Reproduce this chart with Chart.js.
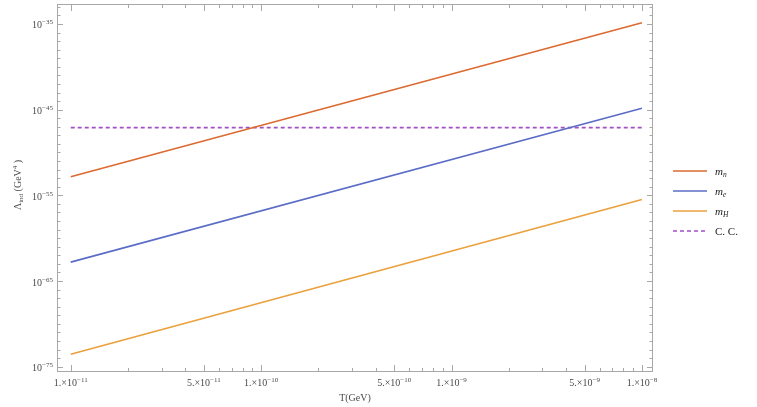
<!DOCTYPE html>
<html>
<head>
<meta charset="utf-8">
<script src="https://cdn.jsdelivr.net/npm/chart.js@4.4.1/dist/chart.umd.min.js"></script>
<style>
  html, body { margin: 0; padding: 0; background: #fff; }
  #wrap { position: relative; width: 757px; height: 407px; }
</style>
</head>
<body>
<div id="wrap"><canvas id="lambdaChart" width="757" height="407"></canvas></div>
<script>
// Data (log-log straight lines)
const temps = [1e-11, 1e-8];
const lambdaMn = [1.5e-53, 1.4e-35];
const lambdaMe = [1.6e-63, 1.45e-45];
const lambdaMh = [2.9e-74, 3.2e-56];
const lambdaCC = [7.9e-48, 7.9e-48];

// Tick labels
const xMajorTicks = [1e-11, 5e-11, 1e-10, 5e-10, 1e-9, 5e-9, 1e-8];
const xMantissa = ['1.', '5.', '1.', '5.', '1.', '5.', '1.'];
const xExponent = ['−11', '−11', '−10', '−10', '−9', '−9', '−8'];
const xMinorTicks = [2e-11, 3e-11, 4e-11, 6e-11, 7e-11, 8e-11, 9e-11,
                     2e-10, 3e-10, 4e-10, 6e-10, 7e-10, 8e-10, 9e-10,
                     2e-9, 3e-9, 4e-9, 6e-9, 7e-9, 8e-9, 9e-9];
const yMajorExp = [-35, -45, -55, -65, -75];
const yMinorExpFrom = -75, yMinorExpTo = -33;

const seriesNames = ['n', 'e', 'H', 'C. C.'];
const seriesColors = ['#dc6a30', '#5b6cc6', '#eba03c', '#a24fc2'];

const serif = '"Liberation Serif", "DejaVu Serif", serif';
const frameColor = '#a8a8a8';
const textColor = '#4a4a4a';

// Draws base text followed by a raised / lowered smaller part
function drawScript(ctx, parts, x, y, align) {
    let total = 0;
    parts.forEach(p => { ctx.font = p.font; p.w = ctx.measureText(p.text).width; total += p.w; });
    let cx = align === 'right' ? x - total : align === 'center' ? x - total / 2 : x;
    ctx.textAlign = 'left';
    ctx.textBaseline = 'alphabetic';
    parts.forEach(p => {
        ctx.font = p.font;
        ctx.fillText(p.text, cx, y + (p.dy || 0));
        cx += p.w;
    });
}

const framePlugin = {
    id: 'mmaFrame',
    afterDraw(chart) {
        const ctx = chart.ctx;
        const area = chart.chartArea;
        const xs = chart.scales.x, ys = chart.scales.y;
        ctx.save();

        // frame
        ctx.strokeStyle = frameColor;
        ctx.lineWidth = 1;
        ctx.strokeRect(area.left + 0.5, area.top + 0.5, area.right - area.left - 1, area.bottom - area.top - 1);

        // x ticks (bottom and top)
        ctx.beginPath();
        xMajorTicks.forEach(v => {
            const px = Math.round(xs.getPixelForValue(v)) + 0.5;
            ctx.moveTo(px, area.bottom); ctx.lineTo(px, area.bottom - 7);
            ctx.moveTo(px, area.top); ctx.lineTo(px, area.top + 7);
        });
        xMinorTicks.forEach(v => {
            const px = Math.round(xs.getPixelForValue(v)) + 0.5;
            ctx.moveTo(px, area.bottom); ctx.lineTo(px, area.bottom - 4);
            ctx.moveTo(px, area.top); ctx.lineTo(px, area.top + 4);
        });
        // y ticks (left and right)
        for (let e = yMinorExpFrom; e <= yMinorExpTo; e++) {
            const py = Math.round(ys.getPixelForValue(Math.pow(10, e))) + 0.5;
            const len = yMajorExp.includes(e) ? 6 : 3.5;
            ctx.moveTo(area.left, py); ctx.lineTo(area.left + len, py);
            ctx.moveTo(area.right, py); ctx.lineTo(area.right - len, py);
        }
        ctx.stroke();

        // tick labels
        ctx.fillStyle = textColor;
        const big = '10px ' + serif, small = '7px ' + serif;
        xMajorTicks.forEach((v, i) => {
            const px = xs.getPixelForValue(v);
            drawScript(ctx, [
                { text: xMantissa[i] + '×10', font: big },
                { text: xExponent[i], font: small, dy: -4 }
            ], px, area.bottom + 14, 'center');
        });
        yMajorExp.forEach(e => {
            const py = ys.getPixelForValue(Math.pow(10, e));
            drawScript(ctx, [
                { text: '10', font: big },
                { text: '−' + Math.abs(e), font: small, dy: -4 }
            ], area.left - 4, py + 4.5, 'right');
        });

        // axis titles
        drawScript(ctx, [{ text: 'T(GeV)', font: big }], (area.left + area.right) / 2, 401, 'center');
        ctx.save();
        ctx.translate(21, 185);
        ctx.rotate(-Math.PI / 2);
        drawScript(ctx, [
            { text: 'Λ', font: big },
            { text: 'ind', font: small, dy: 2 },
            { text: ' (GeV', font: big },
            { text: '4', font: small, dy: -4 },
            { text: ' )', font: big }
        ], 0, 0, 'center');
        ctx.restore();

        // legend
        const legendX = 673, legendY = [171, 191, 211, 231];
        seriesNames.forEach((name, i) => {
            ctx.strokeStyle = seriesColors[i];
            ctx.lineWidth = 1.6;
            ctx.setLineDash(i === 3 ? [4, 3] : []);
            ctx.beginPath();
            ctx.moveTo(legendX, legendY[i]);
            ctx.lineTo(legendX + 34, legendY[i]);
            ctx.stroke();
            ctx.setLineDash([]);
            ctx.fillStyle = '#222';
            if (i < 3) {
                drawScript(ctx, [
                    { text: 'm', font: 'italic 11px ' + serif },
                    { text: name, font: 'italic 7.5px ' + serif, dy: 2.5 }
                ], legendX + 42, legendY[i] + 3.5, 'left');
            } else {
                drawScript(ctx, [{ text: name, font: '11px ' + serif }], legendX + 42, legendY[i] + 3.5, 'left');
            }
        });
        ctx.restore();
    }
};

function makeSeries(values, i) {
    return {
        label: seriesNames[i],
        data: temps.map((t, k) => ({ x: t, y: values[k] })),
        borderColor: seriesColors[i],
        borderWidth: i === 3 ? 1.8 : 1.6,
        borderDash: i === 3 ? [4, 3] : [],
        pointRadius: 0,
        tension: 0
    };
}

const ctx = document.getElementById('lambdaChart').getContext('2d');
new Chart(ctx, {
    type: 'line',
    data: {
        datasets: [
            makeSeries(lambdaMn, 0),
            makeSeries(lambdaMe, 1),
            makeSeries(lambdaMh, 2),
            makeSeries(lambdaCC, 3)
        ]
    },
    options: {
        responsive: false,
        animation: false,
        layout: { padding: { left: 57, right: 104, top: 4, bottom: 35 } },
        plugins: { legend: { display: false }, tooltip: { enabled: false } },
        scales: {
            x: {
                type: 'logarithmic',
                min: 8.47e-12,
                max: 1.143e-8,
                ticks: { display: false },
                grid: { display: false },
                border: { display: false },
                afterBuildTicks: s => { s.ticks = xMajorTicks.map(v => ({ value: v })); },
                afterFit: s => { s.height = 0; }
            },
            y: {
                type: 'logarithmic',
                min: 2.4e-76,
                max: 2.14e-33,
                ticks: { display: false },
                grid: { display: false },
                border: { display: false },
                afterBuildTicks: s => { s.ticks = yMajorExp.map(e => ({ value: Math.pow(10, e) })); },
                afterFit: s => { s.width = 0; }
            }
        }
    },
    plugins: [framePlugin]
});
</script>
</body>
</html>
